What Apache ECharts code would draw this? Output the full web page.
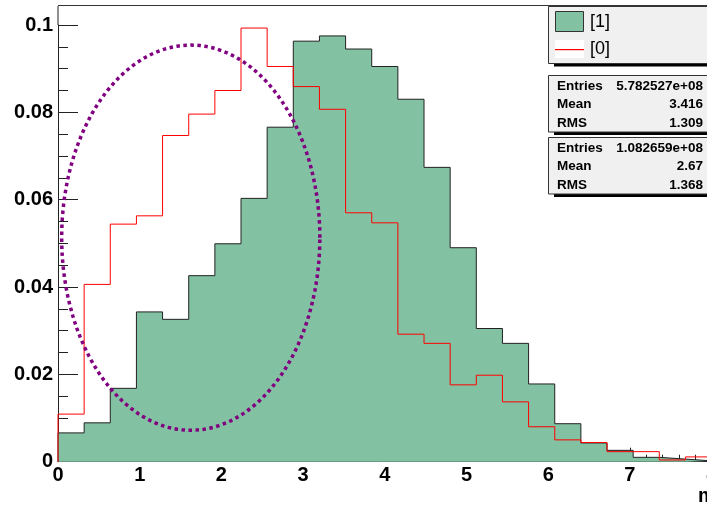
<!DOCTYPE html>
<html>
<head>
<meta charset="utf-8">
<script src="https://cdn.jsdelivr.net/npm/echarts@6/dist/echarts.min.js"></script>
<style>
  html, body { margin: 0; padding: 0; background: #ffffff; }
  #chart { width: 707px; height: 507px; }
</style>
</head>
<body>
<div id="chart"></div>
<script>
// Histogram bin edges (25 bins from 0 to 8)
const binEdges = [0, 0.32, 0.64, 0.96, 1.28, 1.6, 1.92, 2.24, 2.56, 2.88, 3.2, 3.52, 3.84,
                  4.16, 4.48, 4.8, 5.12, 5.44, 5.76, 6.08, 6.4, 6.72, 7.04, 7.36, 7.68, 8];

// Normalised bin contents of sample [1] (filled)
const hist1 = [0.0066, 0.0089, 0.0168, 0.0343, 0.0326, 0.0426, 0.0499, 0.0603, 0.0766, 0.0963,
               0.0975, 0.0945, 0.0905, 0.0830, 0.0674, 0.0490, 0.0305, 0.0271, 0.0178, 0.0087,
               0.0043, 0.0026, 0.0010, 0.0006, 0.0002];

// Normalised bin contents of sample [0] (red outline)
const hist0 = [0.0109, 0.0406, 0.0544, 0.0563, 0.0747, 0.0796, 0.0850, 0.0993, 0.0905, 0.0859,
               0.0807, 0.0570, 0.0547, 0.0292, 0.0271, 0.0176, 0.0198, 0.0137, 0.0080, 0.0050,
               0.0044, 0.0023, 0.0023, 0.0004, 0.0011];

const seriesNames = ['[1]', '[0]'];

// Statistics boxes
const stats1 = [['Entries', '5.782527e+08'], ['Mean', '3.416'], ['RMS', '1.309']];
const stats0 = [['Entries', '1.082659e+08'], ['Mean', '2.67'], ['RMS', '1.368']];

// Highlight ellipse, in data coordinates
const ellipseCenter = [1.625, 0.0513];
const ellipseRadii = [1.58, 0.0441];

const xTitle = 'm';

const FILL_GREEN = '#82c1a1';
const RED = '#ff0000';
const FONT = '"Liberation Sans", Arial, Helvetica, sans-serif';

// Step outline of a histogram: left edges with bin content, closed at both ends
function histPoints(values) {
  const pts = [[binEdges[0], 0]];
  for (let i = 0; i < values.length; i++) pts.push([binEdges[i], values[i]]);
  pts.push([binEdges[binEdges.length - 1], values[values.length - 1]]);
  pts.push([binEdges[binEdges.length - 1], 0]);
  return pts;
}

function textEl(x, y, text, font, align) {
  return { type: 'text', x: x, y: y,
    style: { text: text, font: font, fill: '#000', align: align, verticalAlign: 'middle',
             textAlign: align, textVerticalAlign: 'middle' } };
}

function statsBox(y, rows) {
  const els = [
    { type: 'rect', shape: { x: 554, y: y + 57, width: 160, height: 3 }, style: { fill: '#000' } },
    { type: 'rect', shape: { x: 548.5, y: y + 0.5, width: 170, height: 56.5 },
      style: { fill: '#f0f0f0', stroke: '#333', lineWidth: 1 } }
  ];
  rows.forEach((r, i) => {
    const ty = y + 11 + i * 18.7;
    els.push(textEl(557, ty, r[0], 'bold 13.5px ' + FONT, 'left'));
    els.push(textEl(703, ty, r[1], 'bold 13.5px ' + FONT, 'right'));
  });
  return els;
}

const chart = echarts.init(document.getElementById('chart'), null, { renderer: 'canvas' });

const graphics = [
  // top frame line and the left frame above the axis range
  { type: 'rect', shape: { x: 58, y: 5.5, width: 660, height: 0.01 }, style: { fill: 'none', stroke: '#333', lineWidth: 1 } },
  { type: 'rect', shape: { x: 57.5, y: 6, width: 1, height: 19 }, style: { fill: '#222' } },
  // legend box
  { type: 'rect', shape: { x: 554, y: 63.5, width: 160, height: 3 }, style: { fill: '#000' } },
  { type: 'rect', shape: { x: 548.5, y: 6.5, width: 170, height: 57 },
    style: { fill: '#f0f0f0', stroke: '#333', lineWidth: 1 } },
  { type: 'rect', shape: { x: 555.5, y: 11.5, width: 28, height: 20 },
    style: { fill: FILL_GREEN, stroke: '#333', lineWidth: 1 } },
  { type: 'rect', shape: { x: 555, y: 40, width: 29, height: 18 }, style: { fill: '#ffffff' } },
  { type: 'rect', shape: { x: 555, y: 49, width: 29, height: 1.2 }, style: { fill: RED } },
  textEl(590, 22, seriesNames[0], '18px ' + FONT, 'left'),
  textEl(590, 49.5, seriesNames[1], '18px ' + FONT, 'left'),
  ...statsBox(75, stats1),
  ...statsBox(137, stats0),
  // x axis title
  textEl(698, 496, xTitle, 'bold 20px ' + FONT, 'left')
];

const option = {
  animation: false,
  backgroundColor: '#ffffff',
  grid: { left: 58, top: 25, width: 653.6, height: 436.7, containLabel: false, outerBoundsMode: 'none' },
  xAxis: {
    type: 'value', min: 0, max: 8, interval: 1,
    axisLine: { show: true, onZero: false, lineStyle: { color: '#222', width: 1 } },
    axisTick: { show: true, inside: true, length: 14, lineStyle: { color: '#222' } },
    minorTick: { show: true, splitNumber: 5, length: 7, lineStyle: { color: '#222' } },
    splitLine: { show: false },
    axisLabel: { color: '#000', fontFamily: FONT, fontWeight: 'bold', fontSize: 20, margin: 4,
                 hideOverlap: false }
  },
  yAxis: {
    type: 'value', min: 0, max: 0.1, interval: 0.02,
    axisLine: { show: true, onZero: false, lineStyle: { color: '#222', width: 1 } },
    axisTick: { show: true, inside: true, length: 20, lineStyle: { color: '#222' } },
    minorTick: { show: true, splitNumber: 4, length: 10, lineStyle: { color: '#222' } },
    splitLine: { show: false },
    axisLabel: { color: '#000', fontFamily: FONT, fontWeight: 'bold', fontSize: 20, margin: 5,
                 formatter: v => (v === 0 ? '0' : String(+v.toFixed(2))) }
  },
  series: [
    {
      name: seriesNames[0], type: 'line', step: 'end', data: histPoints(hist1),
      showSymbol: false, symbol: 'none', clip: true,
      lineStyle: { color: '#222', width: 1 },
      areaStyle: { color: FILL_GREEN, opacity: 1 },
      z: 2
    },
    {
      name: seriesNames[1], type: 'line', step: 'end', data: histPoints(hist0),
      showSymbol: false, symbol: 'none', clip: true,
      lineStyle: { color: RED, width: 1 },
      z: 3
    },
    {
      type: 'custom', silent: true, clip: false, z: 5,
      data: [[ellipseCenter[0], ellipseCenter[1]]],
      renderItem: function (params, api) {
        const pts = [];
        const n = 180;
        for (let k = 0; k < n; k++) {
          const t = 2 * Math.PI * k / n;
          pts.push(api.coord([ellipseCenter[0] + ellipseRadii[0] * Math.cos(t),
                              ellipseCenter[1] + ellipseRadii[1] * Math.sin(t)]));
        }
        return {
          type: 'polygon',
          shape: { points: pts },
          style: { fill: 'none', stroke: '#800080', lineWidth: 3.5, lineDash: [3.5, 3.5] }
        };
      }
    }
  ],
  graphic: { elements: graphics }
};

chart.setOption(option);
</script>
</body>
</html>
